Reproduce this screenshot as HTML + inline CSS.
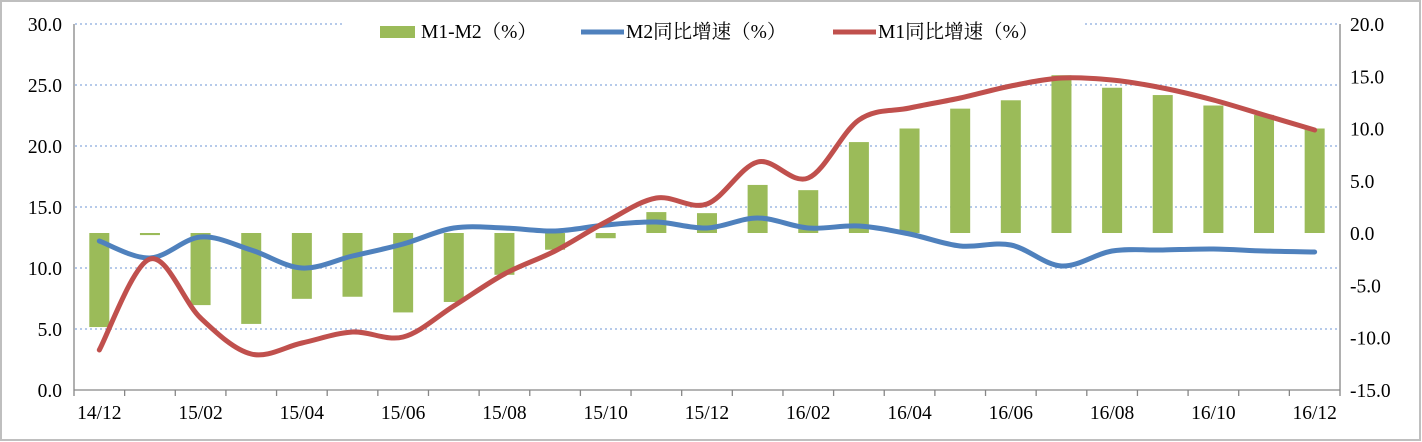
<!DOCTYPE html>
<html><head><meta charset="utf-8"><style>
body{margin:0;background:#fff}
svg{display:block;font-family:"Liberation Serif","Noto Serif CJK SC",serif}
</style></head><body>
<svg width="1422" height="442" viewBox="0 0 1422 442" xmlns="http://www.w3.org/2000/svg">
<rect x="1" y="1" width="1419" height="439" fill="#fff" stroke="#bfbfbf" stroke-width="2"/>
<g stroke="#9db9e3" stroke-width="1.5" stroke-dasharray="2,3">
<line x1="75" y1="329" x2="1340" y2="329"/><line x1="75" y1="268" x2="1340" y2="268"/>
<line x1="75" y1="207" x2="1340" y2="207"/><line x1="75" y1="146" x2="1340" y2="146"/>
<line x1="75" y1="85" x2="1340" y2="85"/><line x1="75" y1="24" x2="1340" y2="24"/>
</g>
<g id="bars" fill="#9bbb59"></g>
<g stroke="#868686" stroke-width="1.3" fill="none">
<line x1="74" y1="24" x2="74" y2="390"/><line x1="1340" y1="24" x2="1340" y2="390"/>
<line x1="74" y1="390" x2="1340" y2="390"/>
</g>
<g id="ticks" stroke="#868686" stroke-width="1.3"></g>
<path id="m2" fill="none" stroke="#4f81bd" stroke-width="5" stroke-linecap="round"/>
<path id="m1" fill="none" stroke="#c0504d" stroke-width="5" stroke-linecap="round"/>
<rect x="342" y="14" width="740" height="24" fill="#fff"/>
<rect x="380" y="26" width="35" height="12" fill="#9bbb59"/>
<text x="421" y="38" font-size="19.5">M1-M2（%）</text>
<line x1="581" y1="32" x2="624" y2="32" stroke="#4f81bd" stroke-width="5"/>
<text x="626" y="38" font-size="19.5">M2同比增速（%）</text>
<line x1="833" y1="32" x2="876" y2="32" stroke="#c0504d" stroke-width="5"/>
<text x="878" y="38" font-size="19.5">M1同比增速（%）</text>
<g font-size="19.5" text-anchor="end" id="yl"></g>
<g font-size="19.5" text-anchor="start" id="yr"></g>
<g font-size="19.5" text-anchor="middle" id="xl"></g>
</svg>
<script>
var ns="http://www.w3.org/2000/svg";
function el(p,t,a,txt){var e=document.createElementNS(ns,t);for(var k in a)e.setAttribute(k,a[k]);if(txt)e.textContent=txt;document.getElementById(p).appendChild(e);}
var bars=[-9.0,-0.2,-6.9,-8.7,-6.3,-6.1,-7.6,-6.6,-4.0,-1.6,-0.5,2.0,1.9,4.6,4.1,8.7,10.0,11.9,12.7,15.1,13.9,13.2,12.2,11.3,10.0];
function cx(i){return 99.3+50.64*i;}
bars.forEach(function(v,i){var y=233-v*10.45;var t=Math.min(y,233),h=Math.max(Math.abs(y-233),2);el("bars","rect",{x:cx(i)-10,y:t,width:20,height:h});});
for(var i=0;i<=25;i++){var x=74+50.64*i;el("ticks","line",{x1:x,y1:390,x2:x,y2:396});}
for(var v=0;v<=30;v+=5){el("yl","text",{x:62,y:390-v*12.2+7},v.toFixed(1));}
for(var v=-15;v<=20;v+=5){el("yr","text",{x:1350,y:233-v*10.45+7},v.toFixed(1));}
var labs=["14/12","15/02","15/04","15/06","15/08","15/10","15/12","16/02","16/04","16/06","16/08","16/10","16/12"];
labs.forEach(function(l,i){el("xl","text",{x:cx(2*i),y:419},l);});
function smooth(ys){var p=ys.map(function(y,i){return [cx(i),y];});var d="M"+p[0][0]+","+p[0][1];
for(var i=0;i<p.length-1;i++){var p0=p[i-1]||p[i],p1=p[i],p2=p[i+1],p3=p[i+2]||p2;var t=6;
d+=" C"+(p1[0]+(p2[0]-p0[0])/t)+","+(p1[1]+(p2[1]-p0[1])/t)+" "+(p2[0]-(p3[0]-p1[0])/t)+","+(p2[1]-(p3[1]-p1[1])/t)+" "+p2[0]+","+p2[1];}return d;}
document.getElementById("m2").setAttribute("d",smooth([241,258,237,250,268,256,244,228,228,231,225,222,228,218,228,226,234,246,245,266,251,250,249,251,252]));
document.getElementById("m1").setAttribute("d",smooth([350,259,318,354,343,332,337,306,274,251,222,198,204,162,178,120,108,98,86,78,80,88,100,115,130]));
</script>
</body></html>
